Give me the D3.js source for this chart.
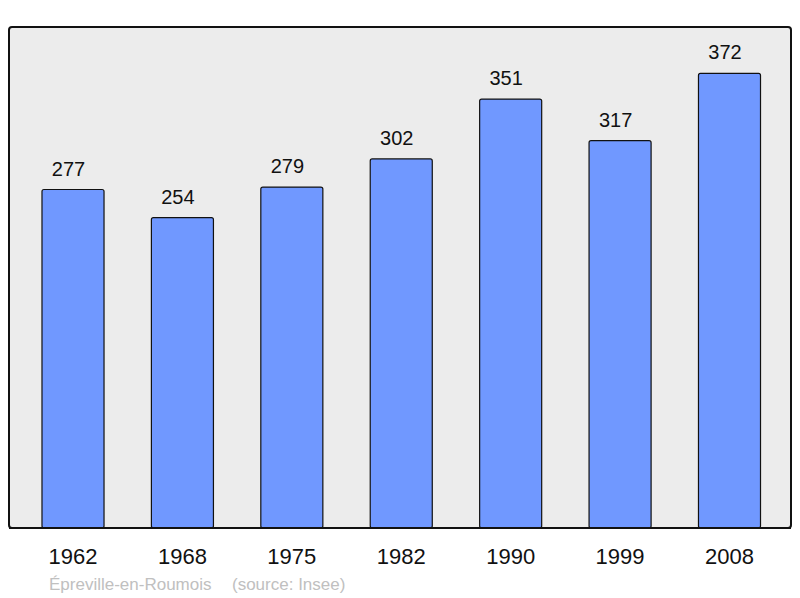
<!DOCTYPE html>
<html>
<head>
<meta charset="utf-8">
<script src="https://cdn.jsdelivr.net/npm/d3@7"></script>
<style>
  body { margin: 0; background: #fff; }
  text { font-family: "Liberation Sans", Arial, sans-serif; }
</style>
</head>
<body>
<svg width="800" height="598"></svg>
<script>
// données : population par année de recensement
const annees = ["1962", "1968", "1975", "1982", "1990", "1999", "2008"];
const population = [277, 254, 279, 302, 351, 317, 372];
const commune = "Épreville-en-Roumois";
const source = "(source: Insee)";

const data = annees.map((a, i) => ({ annee: a, pop: population[i] }));

const svg = d3.select("svg");

// cadre du graphique
const cadre = { x0: 9, y0: 27, x1: 791, y1: 528 };

svg.append("rect")
    .attr("x", cadre.x0)
    .attr("y", cadre.y0)
    .attr("width", cadre.x1 - cadre.x0)
    .attr("height", cadre.y1 - cadre.y0)
    .attr("rx", 3)
    .attr("fill", "#ececec")
    .attr("stroke", "#111")
    .attr("stroke-width", 2);

// échelles
const xScale = d3.scaleBand()
    .domain(annees)
    .range([18.3, 784.2])
    .paddingInner(0.433)
    .paddingOuter(0.2165);

const yScale = d3.scaleLinear()
    .domain([0, 410])
    .range([cadre.y1, cadre.y0]);

// barres
svg.selectAll("rect.barre")
    .data(data)
    .join("rect")
    .attr("class", "barre")
    .attr("x", d => xScale(d.annee))
    .attr("y", d => yScale(d.pop))
    .attr("width", xScale.bandwidth())
    .attr("height", d => cadre.y1 - yScale(d.pop))
    .attr("rx", 2)
    .attr("fill", "#7098ff")
    .attr("stroke", "#111")
    .attr("stroke-width", 1.2);

// redessiner la ligne du bas par-dessus
svg.append("line")
    .attr("x1", cadre.x0)
    .attr("x2", cadre.x1)
    .attr("y1", cadre.y1)
    .attr("y2", cadre.y1)
    .attr("stroke", "#111")
    .attr("stroke-width", 2);

// valeurs au-dessus des barres (légèrement décalées à gauche)
svg.selectAll("text.valeur")
    .data(data)
    .join("text")
    .attr("class", "valeur")
    .attr("x", d => xScale(d.annee) + xScale.bandwidth() / 2 - 4.5)
    .attr("y", d => yScale(d.pop) - 14)
    .attr("text-anchor", "middle")
    .attr("font-size", "20px")
    .attr("fill", "#111")
    .text(d => d.pop);

// années sous l'axe
svg.selectAll("text.annee")
    .data(data)
    .join("text")
    .attr("class", "annee")
    .attr("x", d => xScale(d.annee) + xScale.bandwidth() / 2)
    .attr("y", 564)
    .attr("text-anchor", "middle")
    .attr("font-size", "22px")
    .attr("fill", "#111")
    .text(d => d.annee);

// pied de page
svg.append("text")
    .attr("x", 49)
    .attr("y", 590)
    .attr("font-size", "17px")
    .attr("fill", "#c0c0c0")
    .text(commune);

svg.append("text")
    .attr("x", 232)
    .attr("y", 590)
    .attr("font-size", "17px")
    .attr("fill", "#c0c0c0")
    .text(source);
</script>
</body>
</html>
